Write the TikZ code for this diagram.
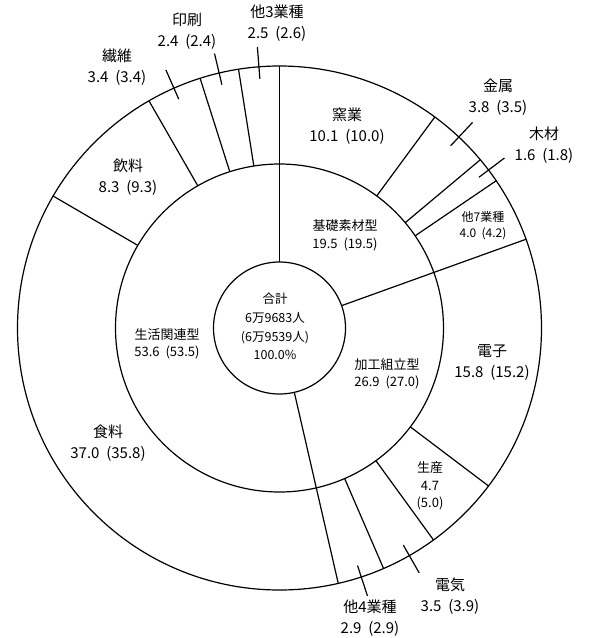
\documentclass[tikz,border=0pt]{standalone}
\usepackage{fontspec}
\setmainfont{Noto Sans CJK JP}
\usetikzlibrary{calc}
\newcommand\gapsp{\hspace{0.45em}}
\begin{document}
\begin{tikzpicture}[x=1pt,y=-1pt,line width=1.2pt,
  lblbig/.style={align=center,inner sep=0pt,font=\fontsize{15}{21}\selectfont},
  lblmid/.style={align=center,inner sep=0pt,font=\fontsize{13}{17.5}\selectfont},
  lblsmall/.style={align=center,inner sep=0pt,font=\fontsize{12}{16}\selectfont},
  lblcen/.style={align=center,inner sep=0pt,font=\fontsize{12.5}{18.7}\selectfont}]
\fill[white] (0,0) rectangle (592,638);
\useasboundingbox (0,0) rectangle (592,638);
\coordinate (C) at (279.5,328);
% rings
\draw (C) circle[radius=262pt];
\draw (C) circle[radius=164pt];
\draw (C) circle[radius=66pt];
% group boundaries
\foreach \a in {-90,-19.8,77.04}
  \draw ($(C)+(\a:66)$) -- ($(C)+(\a:262)$);
% sub boundaries
\foreach \a in {-53.64,-39.96,-34.2,37.08,54,66.6,210.24,240.12,252.36,261}
  \draw ($(C)+(\a:164)$) -- ($(C)+(\a:262)$);
% leader ticks
\foreach \a in {-46.8,-37.08,60.3,71.82,246.24,256.68,265.5}
  \draw ($(C)+(\a:250)$) -- ($(C)+(\a:282)$);
% centre
\node[lblcen] (total) at (275,326.5) {合計\\6万9683人\\(6万9539人)\\100.0\%};
% inner ring
\node[lblmid] (kiso) at (345,235.5) {基礎素材型\\19.5\gapsp(19.5)};
\node[lblmid] (kako) at (387,374) {加工組立型\\26.9\gapsp(27.0)};
\node[lblmid] (seikatsu) at (167,344) {生活関連型\\53.6\gapsp(53.5)};
% outer ring
\node[lblbig] (yogyo) at (347,126) {窯業\\10.1\gapsp(10.0)};
\node[lblbig] (kinzoku) at (498,97.5) {金属\\3.8\gapsp(3.5)};
\node[lblbig] (mokuzai) at (544,145) {木材\\1.6\gapsp(1.8)};
\node[lblsmall] (ta7) at (483,225.5) {他7業種\\4.0\gapsp(4.2)};
\node[lblbig] (denshi) at (492,362) {電子\\15.8\gapsp(15.2)};
\node[lblmid] (seisan) at (430,486) {生産\\4.7\\(5.0)};
\node[lblbig] (denki) at (450,596) {電気\\3.5\gapsp(3.9)};
\node[lblbig] (ta4) at (370,618) {他4業種\\2.9\gapsp(2.9)};
\node[lblbig] (shokuryo) at (108,443) {食料\\37.0\gapsp(35.8)};
\node[lblbig] (inryo) at (128,177) {飲料\\8.3\gapsp(9.3)};
\node[lblbig] (seni) at (117,67) {繊維\\3.4\gapsp(3.4)};
\node[lblbig] (insatsu) at (187,31) {印刷\\2.4\gapsp(2.4)};
\node[lblbig] (ta3) at (277,23) {他3業種\\2.5\gapsp(2.6)};
\end{tikzpicture}
\end{document}
